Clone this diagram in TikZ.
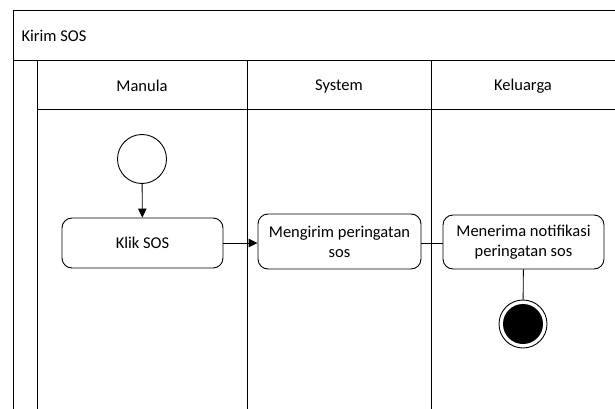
\documentclass[tikz,border=0pt]{standalone}
\usepackage{fontspec}
\setmainfont{Carlito}
\usetikzlibrary{arrows.meta}
\begin{document}
\begin{tikzpicture}[x=1pt,y=-1pt,
  lane/.style={draw=black,line width=0.9pt},
  act/.style={draw=black,line width=0.9pt,rounded corners=10pt,align=center,inner sep=0pt},
  lbl/.style={font=\fontsize{16.5}{20}\selectfont},
  flow/.style={draw=black,line width=0.9pt,-{Triangle[length=9pt,width=8.5pt]}},
  plain/.style={draw=black,line width=0.9pt}]
\useasboundingbox (0,0) rectangle (615,409);
\clip (0,0) rectangle (615,409);
% frame and lanes
\draw[lane] (13,420) -- (13,10) -- (630,10);
\draw[lane] (13,60) -- (630,60);
\draw[lane] (37.5,60) -- (37.5,420);
\draw[lane] (37.5,109) -- (630,109);
\draw[lane] (247,60) -- (247,420);
\draw[lane] (431,60) -- (431,420);
% labels
\node[lbl,anchor=west] (title) at (18,36) {Kirim SOS};
\node[lbl] (h1) at (142,86) {Manula};
\node[lbl] (h2) at (339,86) {System};
\node[lbl] (h3) at (523,86) {Keluarga};
% nodes
\node[draw=black,line width=0.9pt,circle,minimum size=49pt,inner sep=0pt] (start) at (142,159) {};
\node[act,lbl,minimum width=161pt,minimum height=50pt] (klik) at (142.5,243) {Klik SOS};
\node[act,lbl,minimum width=163pt,minimum height=55pt] (kirim) at (339.5,241.5) {Mengirim peringatan\\sos};
\node[act,lbl,minimum width=161pt,minimum height=54pt] (terima) at (523.5,242) {Menerima notifikasi\\peringatan sos};
\node[draw=black,line width=0.9pt,circle,minimum size=48pt,inner sep=0pt] (end) at (523,324) {};
\node[fill=black,circle,minimum size=40pt,inner sep=0pt] (endin) at (end.center) {};
% connectors
\draw[flow] (start) -- (klik);
\draw[flow] (klik.east) -- (kirim.west |- klik.east);
\draw[plain] (kirim.east |- klik.east) -- (terima.west |- klik.east);
\draw[plain] (terima) -- (end);
\end{tikzpicture}
\end{document}
